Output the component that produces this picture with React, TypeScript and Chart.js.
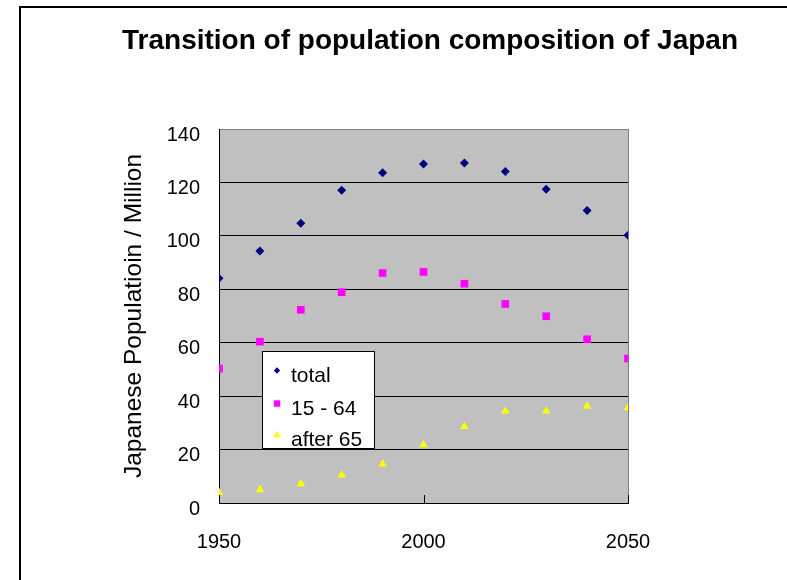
import React, { useEffect, useRef } from 'react';
import { Chart, registerables } from 'chart.js';

Chart.register(...registerables);

const years = [1950, 1960, 1970, 1980, 1990, 2000, 2010, 2020, 2030, 2040, 2050];
const totalPop = [84.1, 94.3, 104.7, 117.1, 123.6, 126.9, 127.3, 124.1, 117.4, 109.5, 100.2];
const workingAgePop = [50.3, 60.4, 72.3, 78.9, 86.1, 86.5, 82.1, 74.5, 69.9, 61.3, 54.1];
const elderlyPop = [3.9, 5.0, 7.2, 10.5, 14.6, 21.8, 28.6, 34.4, 34.4, 36.2, 35.7];
const seriesLabels = ['total', '15 - 64', 'after 65'];
const xTickValues = [1950, 2000, 2050];
const yTickValues = [0, 20, 40, 60, 80, 100, 120, 140];
const chartTitle = 'Transition of population composition of Japan';
const yAxisTitle = 'Japanese Populatioin / Million';

const FONT = '"Liberation Sans", Arial, Helvetica, sans-serif';

const plotBackground = {
  id: 'plotBackground',
  beforeDraw(chart: any) {
    const { ctx, chartArea: a } = chart;
    ctx.save();
    ctx.fillStyle = '#C0C0C0';
    ctx.fillRect(a.left, a.top, a.right - a.left, a.bottom - a.top);
    ctx.restore();
  },
};

const inwardTicks = {
  id: 'inwardTicks',
  afterDraw(chart: any) {
    const { ctx, chartArea: a } = chart;
    const xs = chart.scales.x;
    ctx.save();
    ctx.strokeStyle = '#000';
    ctx.lineWidth = 1;
    xs.ticks.forEach((t: any) => {
      const px = Math.round(xs.getPixelForValue(t.value)) + 0.5;
      ctx.beginPath();
      ctx.moveTo(px, a.bottom);
      ctx.lineTo(px, a.bottom - 8);
      ctx.stroke();
    });
    ctx.restore();
  },
};

function drawMarker(ctx: CanvasRenderingContext2D, style: string, x: number, y: number, r: number) {
  ctx.beginPath();
  if (style === 'rectRot') {
    ctx.moveTo(x, y - r);
    ctx.lineTo(x + r, y);
    ctx.lineTo(x, y + r);
    ctx.lineTo(x - r, y);
  } else if (style === 'rect') {
    ctx.rect(x - r, y - r, 2 * r, 2 * r);
  } else {
    ctx.moveTo(x, y - r);
    ctx.lineTo(x + r * 0.95, y + r * 0.75);
    ctx.lineTo(x - r * 0.95, y + r * 0.75);
  }
  ctx.closePath();
  ctx.fill();
}

const boxLegend = {
  id: 'boxLegend',
  afterDraw(chart: any) {
    const { ctx, chartArea: a } = chart;
    const left = a.left + 43.5;
    const top = a.top + 222.5;
    const w = 112;
    const h = 97;
    ctx.save();
    ctx.fillStyle = '#fff';
    ctx.fillRect(left, top, w, h);
    ctx.strokeStyle = '#000';
    ctx.lineWidth = 1;
    ctx.strokeRect(left, top, w, h);
    const markerY = [19, 52, 83];
    const textY = [30, 63, 94];
    const sizes = [3.2, 3.2, 3.8];
    ctx.font = `21px ${FONT}`;
    ctx.textBaseline = 'alphabetic';
    ctx.textAlign = 'left';
    chart.data.datasets.forEach((ds: any, i: number) => {
      ctx.fillStyle = ds.backgroundColor;
      drawMarker(ctx, ds.pointStyle, left + 14.5, top + markerY[i], sizes[i]);
      ctx.fillStyle = '#000';
      ctx.fillText(ds.label, left + 28.5, top + textY[i]);
    });
    ctx.restore();
  },
};

export default function App() {
  const canvasRef = useRef<HTMLCanvasElement | null>(null);

  useEffect(() => {
    if (!canvasRef.current) return;
    const toPoints = (vals: number[]) => years.map((yr, i) => ({ x: yr, y: vals[i] }));
    const chart = new Chart(canvasRef.current, {
      type: 'scatter',
      data: {
        datasets: [
          {
            label: seriesLabels[0],
            data: toPoints(totalPop),
            pointStyle: 'rectRot',
            backgroundColor: '#000080',
            borderColor: '#000080',
            borderWidth: 0,
            pointRadius: 4.5,
          },
          {
            label: seriesLabels[1],
            data: toPoints(workingAgePop),
            pointStyle: 'rect',
            backgroundColor: '#FF00FF',
            borderColor: '#FF00FF',
            borderWidth: 0,
            pointRadius: 5.4,
          },
          {
            label: seriesLabels[2],
            data: toPoints(elderlyPop),
            pointStyle: 'triangle',
            backgroundColor: '#FFFF00',
            borderColor: '#FFFF00',
            borderWidth: 0,
            pointRadius: 5,
          },
        ],
      },
      options: {
        responsive: false,
        animation: false,
        devicePixelRatio: 1,
        layout: { padding: { left: 0, right: 0, top: 0, bottom: 26 } },
        plugins: {
          legend: { display: false },
          tooltip: { enabled: false },
          title: {
            display: true,
            text: chartTitle,
            color: '#000',
            font: { family: FONT, size: 28, weight: 'bold' },
            padding: { top: 24, bottom: 71.4 },
          },
        },
        scales: {
          x: {
            type: 'linear',
            position: 'bottom',
            min: 1950,
            max: 2050,
            afterBuildTicks: (s: any) => {
              s.ticks = xTickValues.map((v) => ({ value: v }));
            },
            afterFit: (s: any) => {
              s.height = 51;
            },
            ticks: {
              color: '#000',
              font: { family: FONT, size: 20 },
              padding: 27,
              maxRotation: 0,
              autoSkip: false,
              callback: (v: any) => String(v),
            },
            grid: {
              drawTicks: false,
              color: (c: any) => (c.tick && c.tick.value === 2050 ? '#808080' : 'rgba(0,0,0,0)'),
              lineWidth: 1,
            },
            border: { display: true, color: '#000', width: 1 },
          },
          y: {
            type: 'linear',
            position: 'left',
            min: 0,
            max: 140,
            afterBuildTicks: (s: any) => {
              s.ticks = yTickValues.map((v) => ({ value: v }));
            },
            afterFit: (s: any) => {
              s.width = 219;
            },
            ticks: {
              color: '#000',
              font: { family: FONT, size: 20 },
              padding: 19,
              labelOffset: 6,
              callback: (v: any) => String(v),
            },
            grid: {
              drawTicks: false,
              color: (c: any) =>
                c.tick && c.tick.value === 140 ? '#808080' : c.tick && c.tick.value === 0 ? 'rgba(0,0,0,0)' : '#000',
              lineWidth: 1,
            },
            border: { display: true, color: '#000', width: 1 },
            title: {
              display: true,
              text: yAxisTitle,
              color: '#000',
              font: { family: FONT, size: 24.5 },
              padding: { top: 120, bottom: 0 },
            },
          },
          rightPad: {
            type: 'linear',
            position: 'right',
            display: true,
            ticks: { display: false },
            grid: { display: false },
            border: { display: false },
            afterFit: (s: any) => {
              s.width = 232;
            },
          },
        },
      } as any,
      plugins: [plotBackground, inwardTicks, boxLegend],
    });
    return () => chart.destroy();
  }, []);

  return (
    <div
      style={{
        position: 'fixed',
        left: 0,
        top: 0,
        width: 787,
        height: 580,
        overflow: 'hidden',
        background: '#fff',
      }}
    >
      <div
        style={{
          position: 'absolute',
          left: 19,
          top: 6,
          width: 900,
          height: 700,
          border: '2px solid #000',
          boxSizing: 'border-box',
        }}
      />
      <canvas
        ref={canvasRef}
        width={860}
        height={580}
        style={{ position: 'absolute', left: 0, top: 0, width: 860, height: 580 }}
      />
    </div>
  );
}
